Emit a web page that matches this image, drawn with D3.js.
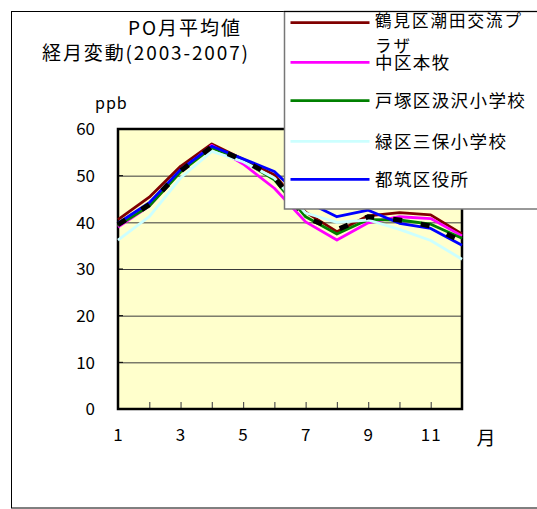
<!DOCTYPE html>
<html><head><meta charset="utf-8">
<script src="https://cdn.jsdelivr.net/npm/d3@7"></script>
<style>
html,body{margin:0;padding:0;background:#fff;}
svg{display:block;font-family:"Noto Sans CJK JP","Noto Sans",sans-serif;}
</style></head>
<body>
<svg id="chart" width="537" height="509"></svg>
<script>
// ---- data ----
const months = [1,2,3,4,5,6,7,8,9,10,11,12];
const tsurumi = [40.6,45.4,52.0,56.8,53.5,50.2,42.2,38.0,41.4,42.1,41.6,37.5];
const nakaku  = [39.0,43.5,51.0,56.5,52.5,47.3,40.1,36.2,39.9,41.2,40.8,37.1];
const totsuka = [39.3,43.5,50.8,56.0,53.2,49.1,41.2,37.5,40.6,40.5,39.6,36.6];
const midori  = [36.2,41.2,49.5,55.2,53.0,49.5,42.0,40.0,40.5,38.5,36.1,32.1];
const tsuzuki = [39.8,44.2,51.3,56.3,53.6,50.9,44.5,41.2,42.6,39.8,38.7,35.1];
const average = [39.5,43.8,51.0,56.2,53.3,49.7,41.0,38.4,41.2,40.5,39.2,35.9];
const seriesNames = ["鶴見区潮田交流プラザ","中区本牧","戸塚区汲沢小学校","緑区三保小学校","都筑区役所"];
const yTicks = [0,10,20,30,40,50,60];
const xLabelTicks = [1,3,5,7,9,11];
const xMinorTicks = [2,3,4,5,6,7,8,9,10,11];
const titleLine1 = "PO月平均値";
const titleLine2 = "経月変動(2003-2007)";
const yUnit = "ppb";
const xUnit = "月";

// ---- layout ----
const svg = d3.select("#chart");
const L = 118, R = 462, T = 129, B = 409;
const x = d3.scaleLinear().domain([1,12]).range([L,R]);
const y = d3.scaleLinear().domain([0,60]).range([B,T]);

// outer frame
svg.append("rect").attr("x",11.5).attr("y",11.5).attr("width",560).attr("height",496.5)
  .attr("fill","#fff").attr("stroke","#000").attr("stroke-width",1);

// plot background
svg.append("rect").attr("x",L).attr("y",T).attr("width",R-L).attr("height",B-T).attr("fill","#FFFFCC");

// y axis with gridlines
const yAxis = svg.append("g").attr("transform",`translate(${L},0)`)
  .call(d3.axisLeft(y).tickValues(yTicks).tickSize(-(R-L)).tickSizeOuter(0).tickPadding(L-95));
yAxis.select(".domain").remove();
yAxis.selectAll(".tick line").attr("stroke","#3a3a3a").attr("stroke-width",1);
yAxis.selectAll(".tick text").attr("font-size",17).attr("fill","#000")
  .attr("font-family",'"Noto Sans CJK JP",sans-serif').attr("dy","0.35em");

// inner y tick marks
svg.append("g").selectAll("line").data(yTicks).join("line")
  .attr("x1",L).attr("x2",L+5).attr("y1",d=>y(d)).attr("y2",d=>y(d))
  .attr("stroke","#000").attr("stroke-width",1);

// x axis minor ticks (inside)
const xMinor = svg.append("g").attr("transform",`translate(0,${B})`)
  .call(d3.axisBottom(x).tickValues(xMinorTicks).tickSize(-7).tickFormat(""));
xMinor.select(".domain").remove();
xMinor.selectAll(".tick line").attr("stroke","#555").attr("stroke-width",1.2);

// x axis labels
const xAxis = svg.append("g").attr("transform",`translate(0,${B})`)
  .call(d3.axisBottom(x).tickValues(xLabelTicks).tickSize(0).tickFormat(d3.format("d")));
xAxis.select(".domain").remove();
xAxis.selectAll(".tick text").attr("font-size",17).attr("fill","#000")
  .attr("font-family",'"Noto Sans CJK JP",sans-serif').attr("y",26).attr("dy","0.35em")
  .attr("letter-spacing",1);

// plot border
svg.append("rect").attr("x",L).attr("y",T).attr("width",R-L).attr("height",B-T)
  .attr("fill","none").attr("stroke","#000").attr("stroke-width",2.5);

// lines
const line = d3.line().x((d,i)=>x(months[i])).y(d=>y(d));
const series = [
  {v:tsurumi, c:"#800000", w:2.8},
  {v:nakaku,  c:"#FF00FF", w:2.8},
  {v:totsuka, c:"#008000", w:2.8},
  {v:midori,  c:"#CCFFFF", w:2.8},
  {v:tsuzuki, c:"#0000FF", w:2.8}
];
svg.append("g").selectAll("path").data(series).join("path")
  .attr("d",d=>line(d.v)).attr("fill","none").attr("stroke",d=>d.c)
  .attr("stroke-width",d=>d.w).attr("stroke-linejoin","round");
svg.append("path").attr("d",line(average)).attr("fill","none").attr("stroke","#000")
  .attr("stroke-width",5).attr("stroke-dasharray","9,19");

// titles
svg.append("text").attr("x",128).attr("y",35).attr("font-size",19).attr("textLength",112)
  .attr("lengthAdjust","spacing").text(titleLine1);
svg.append("text").attr("x",42).attr("y",60).attr("font-size",19).attr("textLength",206)
  .attr("lengthAdjust","spacing").text(titleLine2);
svg.append("text").attr("x",95).attr("y",109).attr("font-size",16).attr("letter-spacing",1).text(yUnit);
svg.append("text").attr("x",486).attr("y",445).attr("font-size",19).attr("text-anchor","middle").text(xUnit);

// legend
const lg = svg.append("g");
lg.append("rect").attr("x",284.5).attr("y",11.5).attr("width",300).attr("height",197.5)
  .attr("fill","#fff").attr("stroke","#777").attr("stroke-width",1.5);
lg.append("line").attr("x1",284).attr("x2",537).attr("y1",11.5).attr("y2",11.5).attr("stroke","#000");
const legY = [22.7,62.3,100.7,141.3,179.3];
series.forEach((s,i)=>{
  lg.append("line").attr("x1",290.5).attr("x2",369.5).attr("y1",legY[i]).attr("y2",legY[i])
    .attr("stroke",s.c).attr("stroke-width",2.8);
  const name = seriesNames[i];
  if(i===0){
    lg.append("text").attr("x",375).attr("y",legY[i]+4.5).attr("font-size",16.5)
      .attr("letter-spacing",2).text(name.slice(0,8));
    lg.append("text").attr("x",375).attr("y",legY[i]+29).attr("font-size",16.5)
      .attr("letter-spacing",2).text(name.slice(8));
  } else {
    lg.append("text").attr("x",375).attr("y",legY[i]+6.5).attr("font-size",17.5)
      .attr("letter-spacing",1.4).text(name);
  }
});
</script>
</body></html>
